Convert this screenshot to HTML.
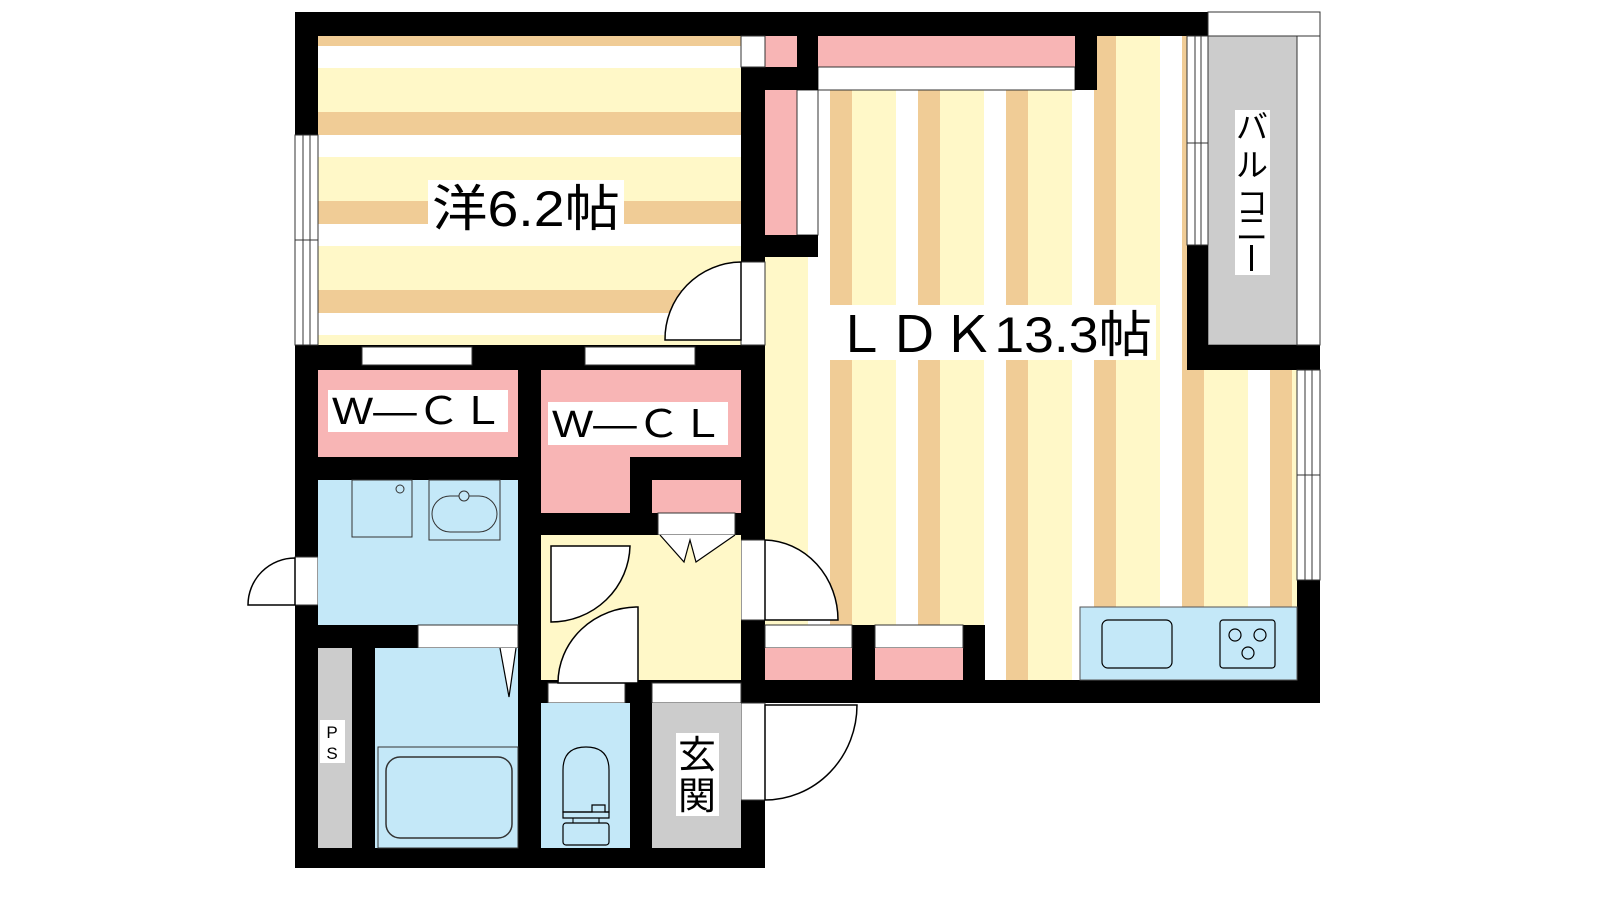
<!DOCTYPE html>
<html><head><meta charset="utf-8"><style>
html,body{margin:0;padding:0;background:#fff;width:1600px;height:900px;overflow:hidden}
svg{display:block}
text{font-family:"Liberation Sans","Noto Sans CJK JP",sans-serif;fill:#000}
</style></head><body>
<svg width="1600" height="900" viewBox="0 0 1600 900" xmlns="http://www.w3.org/2000/svg">
<defs>
<pattern id="hs" patternUnits="userSpaceOnUse" x="0" y="112" width="10" height="89">
<rect x="0" y="0" width="10" height="23" fill="#f0cc96"/>
<rect x="0" y="23" width="10" height="22" fill="#ffffff"/>
<rect x="0" y="45" width="10" height="44" fill="#fff8c8"/>
</pattern>
<pattern id="vs" patternUnits="userSpaceOnUse" x="830" y="0" width="88" height="10">
<rect x="0" y="0" width="22" height="10" fill="#f0cc96"/>
<rect x="22" y="0" width="44" height="10" fill="#fff8c8"/>
<rect x="66" y="0" width="22" height="10" fill="#ffffff"/>
</pattern>
</defs>
<g stroke="none">
<!-- floors -->
<rect x="318" y="36" width="423" height="309" fill="url(#hs)"/>
<rect x="765" y="36" width="532" height="644" fill="url(#vs)"/>
<!-- balcony -->
<rect x="1208" y="12" width="112" height="333" fill="#fff" stroke="#555" stroke-width="1"/>
<rect x="1208" y="36" width="89" height="309" fill="#cccccc" stroke="#555" stroke-width="1"/>
<!-- closets top LDK -->
<rect x="765" y="36" width="32" height="31" fill="#f8b5b5"/>
<rect x="818" y="36" width="257" height="31" fill="#f8b5b5"/>
<rect x="818" y="67" width="257" height="23" fill="#fff" stroke="#333" stroke-width="1"/>
<rect x="765" y="90" width="32" height="145" fill="#f8b5b5"/>
<rect x="797" y="90" width="21" height="145" fill="#fff" stroke="#333" stroke-width="1"/>
<!-- walls -->
<g fill="#000">
<rect x="295" y="12" width="913" height="24"/>
<rect x="295" y="12" width="23" height="123"/>
<rect x="295" y="345" width="23" height="212"/>
<rect x="295" y="605" width="23" height="263"/>
<rect x="295" y="848" width="470" height="20"/>
<rect x="295" y="345" width="470" height="25"/>
<rect x="741" y="67" width="77" height="23"/>
<rect x="797" y="36" width="21" height="31"/>
<rect x="741" y="90" width="24" height="172"/>
<rect x="765" y="235" width="53" height="22"/>
<rect x="741" y="345" width="24" height="195"/>
<rect x="741" y="620" width="24" height="83"/>
<rect x="741" y="800" width="24" height="68"/>
<rect x="1075" y="36" width="22" height="54"/>
<rect x="1187" y="245" width="21" height="125"/>
<rect x="1187" y="345" width="133" height="25"/>
<rect x="1297" y="580" width="23" height="123"/>
<rect x="741" y="680" width="579" height="23"/>
<rect x="852" y="625" width="23" height="55"/>
<rect x="963" y="625" width="22" height="55"/>
</g>
</g>
<!-- windows / openings -->
<g fill="#fff" stroke="#333" stroke-width="1">
<rect x="295" y="135" width="23" height="210"/>
<line x1="303" y1="135" x2="303" y2="345"/><line x1="310" y1="135" x2="310" y2="345"/>
<line x1="295" y1="240" x2="318" y2="240"/>
<rect x="741" y="36" width="24" height="31"/>
<rect x="1187" y="36" width="21" height="209"/>
<line x1="1195" y1="36" x2="1195" y2="245"/><line x1="1201" y1="36" x2="1201" y2="245"/>
<line x1="1187" y1="143" x2="1208" y2="143"/>
<rect x="1208" y="12" width="112" height="24"/>
<rect x="1297" y="36" width="23" height="309"/>
<rect x="1297" y="370" width="23" height="210"/>
<line x1="1305" y1="370" x2="1305" y2="580"/><line x1="1312" y1="370" x2="1312" y2="580"/>
<line x1="1297" y1="475" x2="1320" y2="475"/>
<rect x="741" y="262" width="24" height="83"/>
<rect x="362" y="347" width="110" height="18"/>
<rect x="585" y="347" width="110" height="18"/>
<rect x="741" y="540" width="24" height="80"/>
<rect x="741" y="703" width="24" height="97"/>
<rect x="295" y="557" width="23" height="48"/>
<rect x="765" y="625" width="87" height="23"/>
<rect x="875" y="625" width="88" height="23"/>
</g>
<rect x="765" y="648" width="87" height="32" fill="#f8b5b5"/>
<rect x="875" y="648" width="88" height="32" fill="#f8b5b5"/>
<!-- lower left rooms -->
<rect x="318" y="370" width="200" height="87" fill="#f8b5b5"/>
<rect x="318" y="457" width="223" height="23" fill="#000"/>
<rect x="518" y="345" width="23" height="523" fill="#000"/>
<rect x="541" y="370" width="200" height="87" fill="#f8b5b5"/>
<rect x="541" y="457" width="89" height="56" fill="#f8b5b5"/>
<rect x="630" y="457" width="111" height="23" fill="#000"/>
<rect x="630" y="480" width="22" height="33" fill="#000"/>
<rect x="652" y="480" width="89" height="33" fill="#f8b5b5"/>
<rect x="541" y="513" width="200" height="22" fill="#000"/>
<rect x="658" y="513" width="77" height="22" fill="#fff" stroke="#333"/>
<rect x="541" y="535" width="200" height="145" fill="#fff8c8"/>
<path d="M660 535 L684 562 L690 540 L696 562 L735 535" fill="#fff" stroke="#000" stroke-width="1.2"/>
<!-- wash -->
<rect x="318" y="480" width="200" height="145" fill="#c4e8f8"/>
<rect x="352" y="480" width="60" height="57" fill="none" stroke="#333"/>
<circle cx="400" cy="489" r="4" fill="none" stroke="#333"/>
<rect x="429" y="480" width="71" height="60" fill="none" stroke="#333"/>
<rect x="432" y="496" width="65" height="36" rx="18" fill="none" stroke="#333"/>
<circle cx="464" cy="496" r="5" fill="#c4e8f8" stroke="#333"/>
<rect x="295" y="625" width="123" height="23" fill="#000"/>
<rect x="418" y="625" width="100" height="23" fill="#fff" stroke="#333"/>
<rect x="318" y="648" width="34" height="200" fill="#cccccc"/>
<rect x="352" y="648" width="23" height="200" fill="#000"/>
<rect x="375" y="648" width="143" height="200" fill="#c4e8f8"/>
<path d="M500 648 L509 697 L516 648" fill="#fff" stroke="#000" stroke-width="1.2"/>
<rect x="378" y="747" width="140" height="101" fill="none" stroke="#333"/>
<rect x="386" y="757" width="126" height="81" rx="14" fill="none" stroke="#333" stroke-width="1.5"/>
<!-- hall lower -->
<rect x="541" y="680" width="200" height="23" fill="#000"/>
<rect x="548" y="683" width="77" height="20" fill="#fff" stroke="#333"/>
<rect x="652" y="683" width="89" height="20" fill="#fff" stroke="#333"/>
<rect x="541" y="703" width="89" height="145" fill="#c4e8f8"/>
<rect x="630" y="703" width="22" height="145" fill="#000"/>
<rect x="652" y="703" width="89" height="145" fill="#cccccc"/>
<path d="M563 812 L563 770 Q563 747 586 747 Q609 747 609 770 L609 812 Z" fill="none" stroke="#000" stroke-width="1.2"/>
<path d="M563 812 L592 812 L592 805 L605 805 L605 812 L609 812 L609 818 L563 818 Z" fill="none" stroke="#000" stroke-width="1.2"/>
<rect x="573" y="818" width="26" height="5" fill="none" stroke="#000"/>
<rect x="563" y="823" width="46" height="22" rx="3" fill="none" stroke="#000" stroke-width="1.2"/>
<!-- kitchen -->
<rect x="1080" y="607" width="217" height="73" fill="#c4e8f8" stroke="#555"/>
<rect x="1102" y="620" width="70" height="48" rx="6" fill="none" stroke="#000" stroke-width="1.2"/>
<rect x="1220" y="620" width="55" height="48" rx="3" fill="none" stroke="#000" stroke-width="1.2"/>
<g fill="none" stroke="#000" stroke-width="1.2">
<circle cx="1235" cy="635" r="6"/><circle cx="1260" cy="635" r="6"/><circle cx="1248" cy="653" r="6"/>
</g>
<!-- doors -->
<g fill="#fff" stroke="#000" stroke-width="1.5">
<path d="M741 262 L741 340 L665 340 A77 77 0 0 1 741 262 Z"/>
<path d="M765 540 L765 620 L838 620 A75 80 0 0 0 765 540 Z"/>
<path d="M765 705 L857 705 A92 95 0 0 1 765 800 Z"/>
<path d="M551 546 L630 546 A79 78 0 0 1 551 622 Z"/>
<path d="M638 607 L638 683 L558 683 A80 76 0 0 1 638 607 Z"/>
<path d="M295 558 L295 605 L248 605 A47 47 0 0 1 295 558 Z"/>
</g>
<!-- labels -->
<rect x="428" y="180" width="196" height="55" fill="#fff"/>
<text x="526" y="226" font-size="50" text-anchor="middle" textLength="188" lengthAdjust="spacingAndGlyphs">洋6.2帖</text>
<rect x="830" y="305" width="326" height="55" fill="#fff"/>
<text x="993" y="352" font-size="50" text-anchor="middle" textLength="318" lengthAdjust="spacingAndGlyphs">ＬＤＫ13.3帖</text>
<rect x="328" y="390" width="180" height="42" fill="#fff"/>
<text x="418" y="424" font-size="38" text-anchor="middle" textLength="172" lengthAdjust="spacingAndGlyphs">W―ＣＬ</text>
<rect x="548" y="402" width="180" height="43" fill="#fff"/>
<text x="638" y="437" font-size="38" text-anchor="middle" textLength="172" lengthAdjust="spacingAndGlyphs">W―ＣＬ</text>
<rect x="1235" y="110" width="35" height="165" fill="#fff"/>
<text font-size="32" text-anchor="middle"><tspan x="1252" y="138">バ</tspan><tspan x="1252" y="176">ル</tspan><tspan x="1252" y="214">コ</tspan><tspan x="1252" y="240">ニ</tspan></text>
<rect x="1250" y="245" width="3" height="26" fill="#000"/>
<rect x="320" y="720" width="25" height="43" fill="#fff"/>
<text font-size="17" text-anchor="middle"><tspan x="332" y="738">P</tspan><tspan x="332" y="759">S</tspan></text>
<rect x="676" y="733" width="43" height="83" fill="#fff"/>
<text font-size="38" text-anchor="middle"><tspan x="697" y="768">玄</tspan><tspan x="697" y="809">関</tspan></text>
</svg>
</body></html>
